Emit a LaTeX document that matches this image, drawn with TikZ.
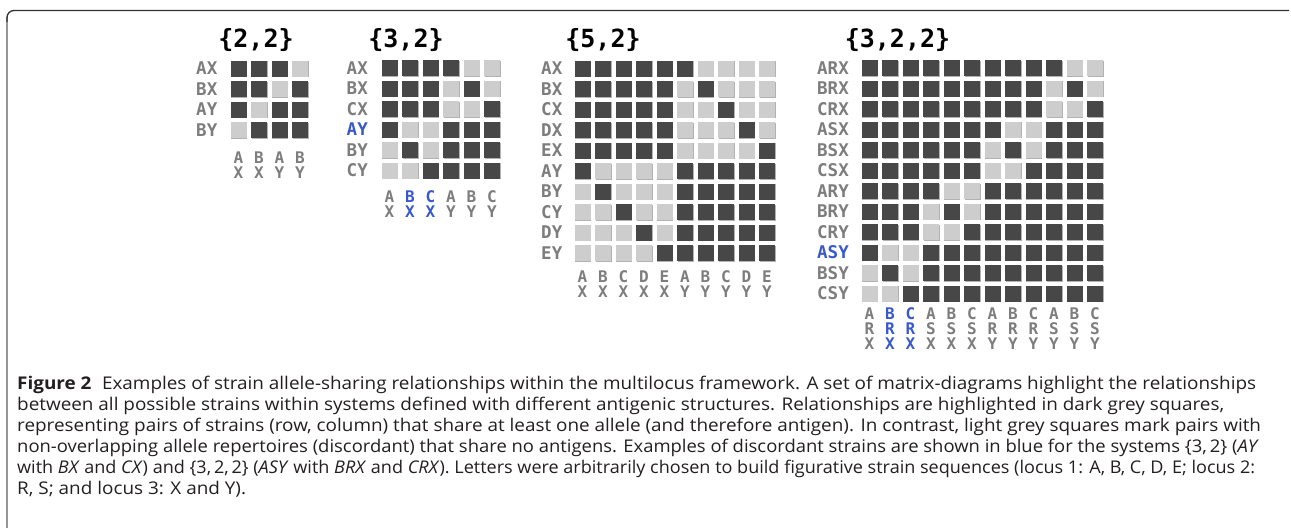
\documentclass[tikz,border=0pt]{standalone}
\usepackage{graphicx}
\usepackage{fontspec}
\setmainfont{Open Sans}[FakeStretch=1.08]
\newfontfamily\monob{DejaVu Sans Mono}
\usetikzlibrary{shadows}
\definecolor{dkc}{RGB}{71,71,71}
\definecolor{ltc}{RGB}{205,205,205}
\definecolor{labc}{RGB}{125,125,125}
\definecolor{blu}{RGB}{56,88,206}
\definecolor{frameT}{RGB}{50,50,50}
\definecolor{frameL}{RGB}{150,150,150}
\definecolor{captc}{RGB}{35,31,32}
\tikzset{
  sq/.style={minimum size=16pt, inner sep=0pt, outer sep=0pt, draw=none,
    drop shadow={shadow xshift=0.9pt, shadow yshift=-0.9pt, opacity=0.3, fill=black}},
  dk/.style={sq, fill=dkc},
  lt/.style={sq, fill=ltc},
  rowlab/.style={anchor=east, inner sep=0pt, text=labc, font=\monob\bfseries\fontsize{17.5}{18}\selectfont},
  collab/.style={anchor=center, inner sep=0pt, text=labc, align=center, font=\monob\bfseries\fontsize{16}{15}\selectfont},
  ttl/.style={anchor=center, inner sep=0pt, text=black, font=\monob\bfseries\fontsize{25}{25}\selectfont},
  captxt/.style={anchor=base west, inner sep=0pt, text=captc, font=\fontsize{17.5}{21}\selectfont},
}
\begin{document}
\begin{tikzpicture}[x=1pt,y=-1pt]
\useasboundingbox (0,0) rectangle (1291,528);
\fill[white] (0,0) rectangle (1291,528);
% frame
\draw[frameL, line width=1.5pt] (7,528) -- (7,17);
\draw[frameT, line width=1.3pt, rounded corners=7pt] (7,22) -- (7,10.5) -- (1289,10.5);

% ---------- {2,2}
\node[ttl] (t1) at (256,40) {\{2,2\}};
\foreach \i in {0,...,3}{
  \foreach \j in {0,...,3}{
    \pgfmathtruncatemacro\a{(mod(\i,2)==mod(\j,2)) || (div(\i,2)==div(\j,2))}
    \ifnum\a=1 \def\st{dk}\else\def\st{lt}\fi
    \node[\st] (m1-\i-\j) at (238.5+\j*20.5, 68.5+\i*20.5) {};
  }
}
\foreach \s/\c [count=\k from 0] in {AX/labc,BX/labc,AY/labc,BY/labc}{
  \node[rowlab, text=\c] (m1-r\k) at (217.5, 68.5+\k*20.5) {\s};
}
\foreach \p/\q/\c [count=\k from 0] in {A/X/labc,B/X/labc,A/Y/labc,B/Y/labc}{
  \node[collab, text=\c] (m1-c\k) at (238.5+\k*20.5, 165) {\p\\\q};
}

% ---------- {3,2}
\node[ttl] (t2) at (406,40) {\{3,2\}};
\foreach \i in {0,...,5}{
  \foreach \j in {0,...,5}{
    \pgfmathtruncatemacro\a{(mod(\i,3)==mod(\j,3)) || (div(\i,3)==div(\j,3))}
    \ifnum\a=1 \def\st{dk}\else\def\st{lt}\fi
    \node[\st] (m2-\i-\j) at (389.5+\j*20.5, 68+\i*20.5) {};
  }
}
\foreach \s/\c [count=\k from 0] in {AX/labc,BX/labc,CX/labc,AY/blu,BY/labc,CY/labc}{
  \node[rowlab, text=\c] (m2-r\k) at (368, 68+\k*20.5) {\s};
}
\foreach \p/\q/\c [count=\k from 0] in {A/X/labc,B/X/blu,C/X/blu,A/Y/labc,B/Y/labc,C/Y/labc}{
  \node[collab, text=\c] (m2-c\k) at (389.5+\k*20.5, 204.5) {\p\\\q};
}

% ---------- {5,2}
\node[ttl] (t3) at (603,40) {\{5,2\}};
\foreach \i in {0,...,9}{
  \foreach \j in {0,...,9}{
    \pgfmathtruncatemacro\a{(mod(\i,5)==mod(\j,5)) || (div(\i,5)==div(\j,5))}
    \ifnum\a=1 \def\st{dk}\else\def\st{lt}\fi
    \node[\st] (m3-\i-\j) at (582.5+\j*20.5, 68.5+\i*20.5) {};
  }
}
\foreach \s [count=\k from 0] in {AX,BX,CX,DX,EX,AY,BY,CY,DY,EY}{
  \node[rowlab] (m3-r\k) at (562.5, 68.5+\k*20.5) {\s};
}
\foreach \p/\q [count=\k from 0] in {A/X,B/X,C/X,D/X,E/X,A/Y,B/Y,C/Y,D/Y,E/Y}{
  \node[collab] (m3-c\k) at (582.5+\k*20.5, 284) {\p\\\q};
}

% ---------- {3,2,2}
\node[ttl] (t4) at (897.5,40) {\{3,2,2\}};
\foreach \i in {0,...,11}{
  \foreach \j in {0,...,11}{
    \pgfmathtruncatemacro\a{(mod(\i,3)==mod(\j,3)) || (mod(div(\i,3),2)==mod(div(\j,3),2)) || (div(\i,6)==div(\j,6))}
    \ifnum\a=1 \def\st{dk}\else\def\st{lt}\fi
    \node[\st] (m4-\i-\j) at (869.5+\j*20.5, 68+\i*20.5) {};
  }
}
\foreach \s/\c [count=\k from 0] in {ARX/labc,BRX/labc,CRX/labc,ASX/labc,BSX/labc,CSX/labc,ARY/labc,BRY/labc,CRY/labc,ASY/blu,BSY/labc,CSY/labc}{
  \node[rowlab, text=\c] (m4-r\k) at (849, 68+\k*20.5) {\s};
}
\foreach \p/\q/\r/\c [count=\k from 0] in {A/R/X/labc,B/R/X/blu,C/R/X/blu,A/S/X/labc,B/S/X/labc,C/S/X/labc,A/R/Y/labc,B/R/Y/labc,C/R/Y/labc,A/S/Y/labc,B/S/Y/labc,C/S/Y/labc}{
  \node[collab, text=\c] (m4-c\k) at (869.5+\k*20.5, 329) {\p\\\q\\\r};
}

% ---------- caption
\node[captxt] (cap1) at (17,389) {\textbf{Figure 2}\hspace{0.6em}Examples of strain allele-sharing relationships within the multilocus framework. A set of matrix-diagrams highlight the relationships};
\node[captxt] (cap2) at (17,410) {between all possible strains within systems defined with different antigenic structures. Relationships are highlighted in dark grey squares,};
\node[captxt] (cap3) at (17,431) {representing pairs of strains (row, column) that share at least one allele (and therefore antigen). In contrast, light grey squares mark pairs with};
\node[captxt] (cap4) at (17,452) {\scalebox{0.975}[1]{non-overlapping allele repertoires (discordant) that share no antigens. Examples of discordant strains are shown in blue for the systems \{3,\,2\} (\textit{AY}}};
\node[captxt] (cap5) at (17,473) {\scalebox{0.955}[1]{with \textit{BX} and \textit{CX}) and \{3,\,2,\,2\} (\textit{ASY} with \textit{BRX} and \textit{CRX}). Letters were arbitrarily chosen to build figurative strain sequences (locus 1: A, B, C, D, E; locus 2:}};
\node[captxt] (cap6) at (17,494) {R, S; and locus 3: X and Y).};
\end{tikzpicture}
\end{document}
